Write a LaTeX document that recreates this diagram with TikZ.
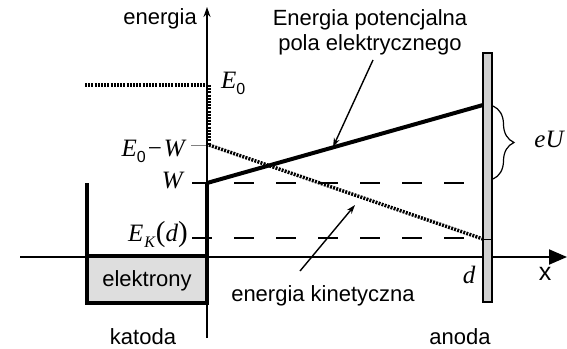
\documentclass[tikz,border=0pt]{standalone}
\usepackage{fontspec}
\setmainfont{Liberation Sans}
\newfontfamily\tms{Liberation Serif}
\usetikzlibrary{arrows.meta,decorations.pathreplacing}
\newcommand{\mi}[1]{{\tms\itshape #1}}
\newcommand{\sbs}[1]{\raisebox{-0.24em}{\fontsize{16}{16}\selectfont #1}}
\newcommand{\bigpar}[1]{{\tms\fontsize{29}{29}\selectfont #1}}
\begin{document}
\begin{tikzpicture}[x=1pt,y=-1pt,
  font=\fontsize{22}{25}\selectfont,
  txt/.style={inner sep=0pt},
  mathlbl/.style={inner sep=0pt, font=\fontsize{25}{28}\selectfont},
  wall/.style={line width=4.5pt},
  axis/.style={line width=2pt},
  dotln/.style={line width=3.5pt, dash pattern=on 2pt off 1.2pt},
  dashln/.style={line width=1.6pt, dash pattern=on 20pt off 22pt},
  tickln/.style={line width=1pt, gray},
  pointer/.style={line width=1.4pt, -{Stealth[length=9pt,width=6pt]}}]
\useasboundingbox (0,0) rectangle (567,348);
% electrode box
\draw[line width=3.5pt, fill=black!13] (87,256) rectangle (207,303);
% dashed levels
\draw[dashln] (192,183) -- (483,183);
\draw[dashln] (192,238) -- (483,238);
\draw[tickln] (191,145) -- (207,145);
% axes
\draw[axis, -{Triangle[length=18pt,width=15pt]}] (20,257) -- (567,257);
\draw[axis, -{Stealth[length=10pt,width=7pt]}] (207,338) -- (207,7);
% well walls
\draw[wall] (87,183) -- (87,256);
\draw[wall] (207,183) -- (207,256);
% E0 level
\draw[dotln] (85,85) -- (207,85);
\draw[dotln] (209,85) -- (209,145);
% kinetic energy
\draw[dotln] (209,145) -- (483,239);
% potential energy
\draw[line width=4pt] (207,183) -- (483,105);
% anode
\draw[line width=1.3pt, fill=black!18] (483,53) rectangle (492,302);
\draw[line width=1pt] (483,239) -- (492,239);
% brace
\draw[decorate, decoration={brace, amplitude=21pt}, line width=1.2pt] (493,106) -- (493,179);
% labels
\node[txt, anchor=east] (en) at (197,19) {energia};
\node[txt, align=center] (ep) at (370,32) {Energia potencjalna\\pola elektrycznego};
\node[txt] (ek) at (323,296) {energia kinetyczna};
\node[txt] (el) at (147,281) {elektrony};
\node[txt] (kat) at (143,337) {katoda};
\node[txt] (an) at (460,337) {anoda};
\node[txt, font=\fontsize{25}{28}\selectfont] (xl) at (545,274) {x};
\node[mathlbl] (dl) at (469,275) {\mi{d}};
\node[mathlbl] (eu) at (549,139) {\mi{eU}};
\node[mathlbl, anchor=base west] (e0) at (221,88) {\mi{E}\sbs{0}};
\node[mathlbl, anchor=base east] (e0w) at (185,156) {\mi{E}\sbs{0}\kern2pt{\tms −}\kern2pt\mi{W}};
\node[mathlbl, anchor=base east] (wl) at (183,188) {\mi{W}};
\node[mathlbl, anchor=base east] (ekd) at (188,241) {\mi{E}\kern1pt\sbs{\mi{K}}\kern1pt\bigpar{(}\mi{d}\bigpar{)}};
% pointers
\coordinate (p1s) at (373,60);
\coordinate (p1e) at (333,147);
\coordinate (p2s) at (300,271);
\coordinate (p2e) at (355,205);
\draw[pointer] (p1s) -- (p1e);
\draw[pointer] (p2s) -- (p2e);
\end{tikzpicture}
\end{document}
